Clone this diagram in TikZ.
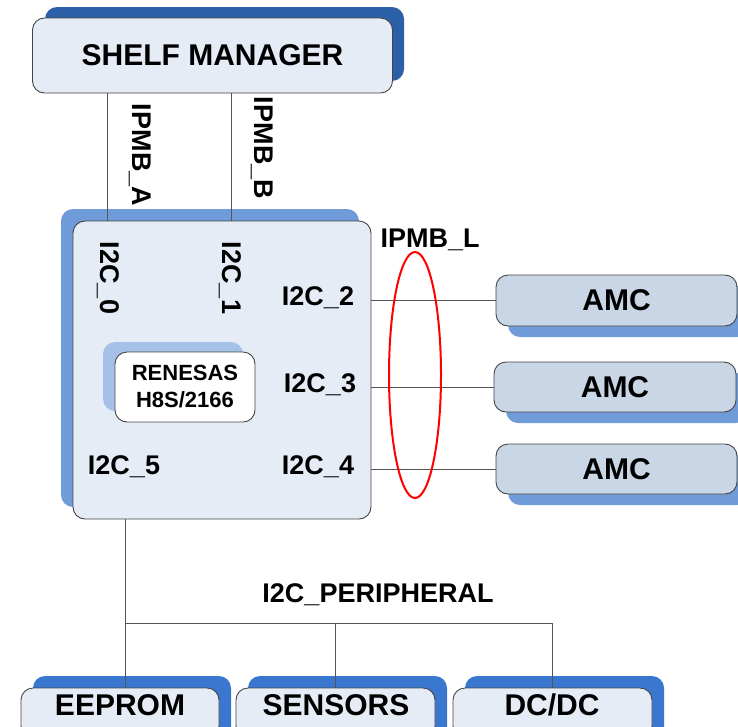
\documentclass[tikz,border=0pt]{standalone}
\usepackage{fontspec}
\setmainfont{Liberation Sans}
\usetikzlibrary{shapes.geometric}
\definecolor{boxfill}{HTML}{E6ECF6}
\definecolor{amcfill}{HTML}{C8D6E6}
\definecolor{shdark}{HTML}{2B5FA8}
\definecolor{shmid}{HTML}{6F9BD8}
\definecolor{shlight}{HTML}{A6C1E8}
\definecolor{shbright}{HTML}{3A78D0}
\definecolor{edge}{HTML}{444444}
\definecolor{wire}{HTML}{555555}
\tikzset{
  box/.style={draw=edge, line width=0.9pt, rounded corners=12pt, inner sep=0pt, outer sep=0pt, font=\fontsize{30}{32}\selectfont\bfseries},
  lbl/.style={inner sep=0pt, font=\fontsize{27}{29}\selectfont\bfseries},
  btxt/.style={inner sep=0pt, font=\fontsize{30}{32}\selectfont\bfseries},
  conn/.style={draw=wire, line width=0.9pt},
  shade/.style={rounded corners=12pt}
}
\begin{document}
\begin{tikzpicture}[x=1pt,y=-1pt]
\useasboundingbox (0,0) rectangle (738,726);
\clip (0,0) rectangle (738,726);
% shelf manager
\fill[shdark, shade] (45,7) rectangle (404,81);
\node[box, fill=boxfill, minimum width=360, minimum height=75] (sm) at (212.5,55.5) {SHELF MANAGER};
% main box
\fill[shmid, shade] (61,209) rectangle (359,507);
\node[box, fill=boxfill, minimum width=298, minimum height=298] (mb) at (222,370) {};
% renesas
\fill[shlight, rounded corners=12pt] (103,342) rectangle (243,411);
\node[box, fill=white, minimum width=140, minimum height=70, align=center, font=\fontsize{22}{27}\selectfont\bfseries] (ren) at (185,387) {RENESAS\\H8S/2166};
% IPMB wires
\coordinate (ta) at (107,0);
\coordinate (tb) at (231,0);
\draw[conn] (sm.south -| ta) -- (mb.north -| ta);
\draw[conn] (sm.south -| tb) -- (mb.north -| tb);
\node[lbl, rotate=-90] (ipa) at (140,155) {IPMB\_A};
\node[lbl, rotate=-90] (ipb) at (262,148) {IPMB\_B};
% internal labels
\node[lbl, rotate=-90] (c0) at (108,278) {I2C\_0};
\node[lbl, rotate=-90] (c1) at (230,278) {I2C\_1};
\node[lbl] (c2) at (318,298) {I2C\_2};
\node[lbl] (c3) at (320,385) {I2C\_3};
\node[lbl] (c4) at (318,467) {I2C\_4};
\node[lbl] (c5) at (124,467) {I2C\_5};
% AMCs
\fill[shmid, shade] (508,286) rectangle (749,337);
\fill[shmid, shade] (506,373) rectangle (748,423);
\fill[shmid, shade] (508,455) rectangle (749,505);
\node[box, fill=amcfill, minimum width=241, minimum height=51] (amc1) at (616.5,300.5) {AMC};
\node[box, fill=amcfill, minimum width=242, minimum height=50] (amc2) at (615,387) {AMC};
\node[box, fill=amcfill, minimum width=241, minimum height=50] (amc3) at (616.5,469) {AMC};
\draw[conn] (amc1.west -| mb.east) -- (amc1.west);
\draw[conn] (amc2.west -| mb.east) -- (amc2.west);
\draw[conn] (amc3.west -| mb.east) -- (amc3.west);
\node[draw=red, line width=2pt, ellipse, minimum width=52, minimum height=246, inner sep=0pt] (ell) at (415,375) {};
\node[lbl] (ipl) at (430,240) {IPMB\_L};
% bottom
\fill[shbright, shade] (33,676) rectangle (231,740);
\fill[shbright, shade] (248,676) rectangle (447,740);
\fill[shbright, shade] (465,676) rectangle (664,740);
\node[box, fill=boxfill, minimum width=198, minimum height=50] (eep) at (120,713) {};
\node[box, fill=boxfill, minimum width=199, minimum height=50] (sen) at (335.5,713) {};
\node[box, fill=boxfill, minimum width=199, minimum height=50] (dc) at (552.5,713) {};
\node[btxt] (eept) at (120,705) {EEPROM};
\node[btxt] (sent) at (336,705) {SENSORS};
\node[btxt] (dct) at (552,705) {DC/DC};
\coordinate (px) at (125,0);
\coordinate (bus) at (0,623);
\draw[conn] (mb.south -| px) -- (eep.north -| px);
\draw[conn] (bus -| px) -- (bus -| dc.north) -- (dc.north);
\draw[conn] (bus -| sen.north) -- (sen.north);
\node[lbl] (per) at (378,595) {I2C\_PERIPHERAL};
\end{tikzpicture}
\end{document}
